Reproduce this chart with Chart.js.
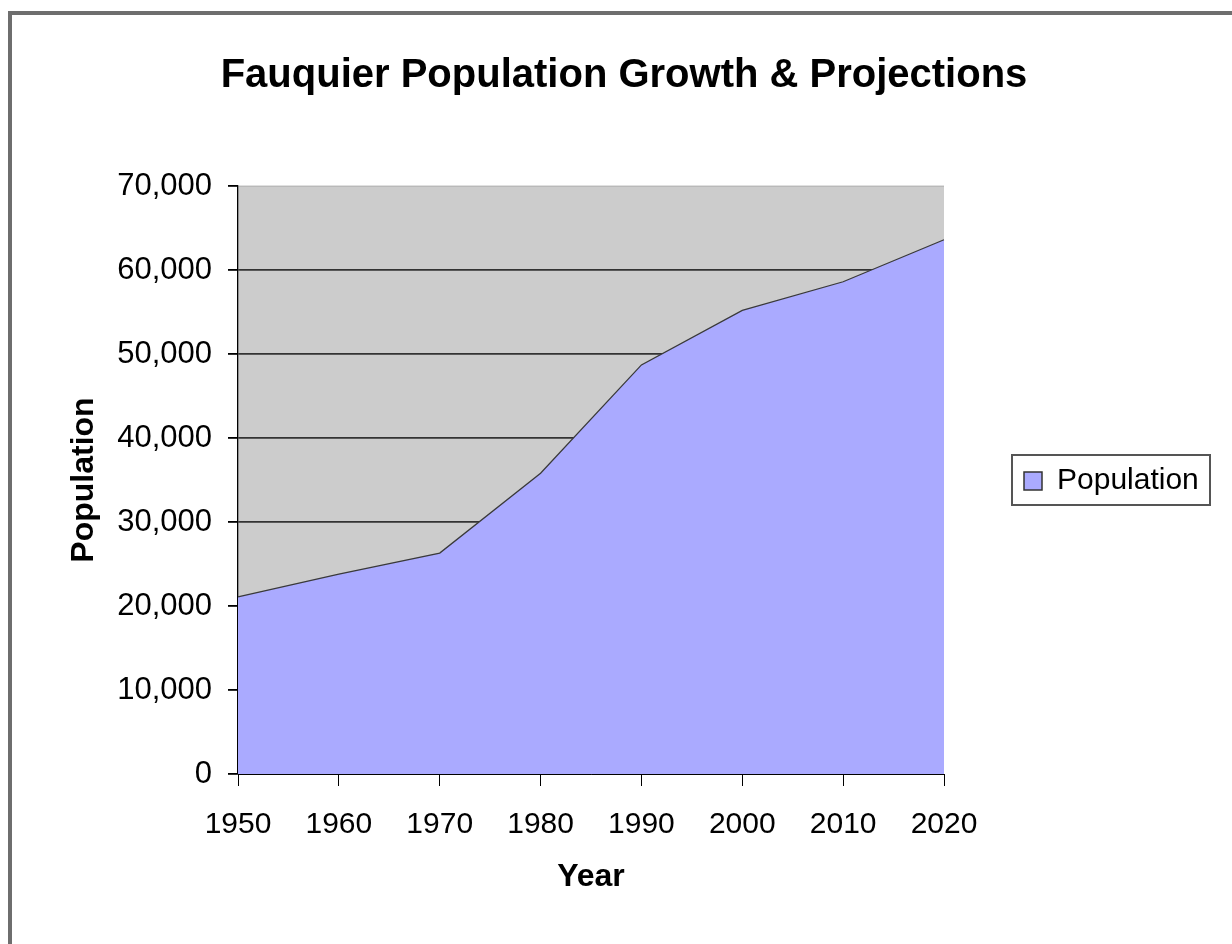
<!DOCTYPE html>
<html>
<head>
<meta charset="utf-8">
<title>Fauquier Population Growth & Projections</title>
<script src="https://cdn.jsdelivr.net/npm/chart.js@4/dist/chart.umd.min.js"></script>
<style>
  html, body { margin: 0; padding: 0; background: #fff; }
  #marco {
    position: absolute; left: 8px; top: 11px; right: 0; bottom: 0;
    border-top: 4px solid #6e6e6e; border-left: 4px solid #6e6e6e;
  }
  #caja { position: absolute; left: 0; top: 0; width: 1232px; height: 944px; }
</style>
</head>
<body>
<div id="marco"></div>
<div id="caja"><canvas id="myChart"></canvas></div>
<script>
// DATOS DEL GRAFICO
const anios = ["1950", "1960", "1970", "1980", "1990", "2000", "2010", "2020"];
const poblacion = [21100, 23800, 26300, 35800, 48700, 55200, 58600, 63600];
const nombreSerie = "Population";
const tituloGrafico = "Fauquier Population Growth & Projections";
const tituloX = "Year";
const tituloY = "Population";

const fuente = "'Liberation Sans', Arial, sans-serif";
const colorArea = "#aaaaff";

//PLUGIN FONDO GRIS DEL AREA DE DIBUJO
const fondoGris = {
  id: "fondoGris",
  beforeDraw(chart) {
    const { ctx, chartArea } = chart;
    ctx.save();
    ctx.fillStyle = "#cccccc";
    ctx.fillRect(chartArea.left, chartArea.top, chartArea.right - chartArea.left, chartArea.bottom - chartArea.top);
    ctx.restore();
  },
};

//PLUGIN LEYENDA CON MARCO (estilo excel)
const leyendaCaja = {
  id: "leyendaCaja",
  afterDraw(chart) {
    const { ctx, chartArea } = chart;
    const ds = chart.data.datasets[0];
    const x = chartArea.right + 68;
    const cy = (chartArea.top + chartArea.bottom) / 2;
    ctx.save();
    ctx.strokeStyle = "#555";
    ctx.lineWidth = 2;
    ctx.strokeRect(x, cy - 25, 198, 50);
    ctx.fillStyle = ds.backgroundColor;
    ctx.fillRect(x + 12, cy - 8, 18, 18);
    ctx.strokeStyle = "#333";
    ctx.lineWidth = 1.5;
    ctx.strokeRect(x + 12, cy - 8, 18, 18);
    ctx.fillStyle = "#000";
    ctx.font = "30px " + fuente;
    ctx.textBaseline = "middle";
    ctx.fillText(ds.label, x + 45, cy + 1);
    ctx.restore();
  },
};

const ctx = document.getElementById("myChart").getContext("2d");

const myChart = new Chart(ctx, {
  type: "line",
  data: {
    labels: anios,
    datasets: [
      {
        label: nombreSerie,
        data: poblacion,
        fill: "origin",
        backgroundColor: colorArea,
        borderColor: "#3a3a3a",
        borderWidth: 1.3,
        pointRadius: 0,
        tension: 0,
      },
    ],
  },
  options: {
    responsive: true,
    maintainAspectRatio: false,
    animation: false,
    layout: { padding: { left: 16, top: 0, right: 0, bottom: 0 } },
    plugins: {
      legend: { display: false },
      tooltip: { enabled: false },
      title: {
        display: true,
        text: tituloGrafico,
        color: "#000",
        font: { family: fuente, size: 40, weight: "bold" },
        padding: { top: 52, bottom: 86 },
      },
    },
    scales: {
      x: {
        offset: false,
        grid: { drawOnChartArea: false, tickLength: 12, tickColor: "#000", offset: false },
        border: { color: "#000", width: 1 },
        ticks: { color: "#000", font: { family: fuente, size: 30 }, padding: 21, maxRotation: 0, autoSkip: false },
        title: {
          display: true,
          text: tituloX,
          color: "#000",
          font: { family: fuente, size: 32, weight: "bold" },
          padding: { top: 0, bottom: 48 },
        },
        afterFit(scale) { scale.height = 170; },
      },
      y: {
        min: 0,
        max: 70000,
        grid: {
          color: (c) => (c.index === 7 ? "rgba(0,0,0,0.12)" : "#333"),
          lineWidth: 1.8,
          tickLength: 10,
          tickColor: "#000",
        },
        border: { color: "#000", width: 1.3 },
        ticks: {
          stepSize: 10000,
          color: "#000",
          font: { family: fuente, size: 31 },
          padding: 16,
          callback: (v) => v.toLocaleString("en-US"),
        },
        title: {
          display: true,
          text: tituloY,
          color: "#000",
          font: { family: fuente, size: 32, weight: "bold" },
          padding: { top: 49, bottom: 0 },
        },
        afterFit(scale) { scale.width = 222; },
      },
      // eje vacio a la derecha solo para dejar espacio a la leyenda
      espacio: {
        position: "right",
        display: true,
        grid: { display: false },
        border: { display: false },
        ticks: { display: false },
        afterFit(scale) { scale.width = 288; },
      },
    },
  },
  plugins: [fondoGris, leyendaCaja],
});
</script>
</body>
</html>
